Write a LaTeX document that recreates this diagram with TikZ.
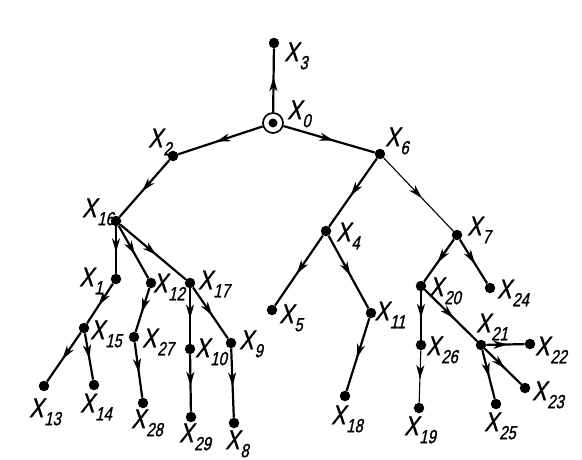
\documentclass[tikz,border=0pt]{standalone}
\usepackage{fontspec}
\usepackage{tikz}
\usetikzlibrary{arrows.meta,decorations.markings}

\newfontfamily\gost[FakeSlant=0.22,FakeStretch=0.78,FakeBold=1.2]{Liberation Sans}
\newcommand{\xlab}[1]{X\kern1pt\raisebox{-8pt}{\fontsize{19}{19}\selectfont #1}}

\begin{document}
\begin{tikzpicture}[x=1pt,y=-1pt]
            \tikzset{vertex/.style = {shape=circle,fill,inner sep=0pt,minimum size=10.5pt}}
            \tikzset{rootring/.style = {shape=circle,draw,line width=1.7pt,inner sep=0pt,minimum size=20pt}}
            \tikzset{edge/.style = {line width=2.2pt,postaction={decorate},
                decoration={markings,mark=at position 0.55 with {\arrow{Stealth[length=14pt,width=8pt,inset=4pt]}}}}}
            \tikzset{thinedge/.style = {edge,line width=1.1pt}}
            \tikzset{lbl/.style = {inner sep=0pt,font=\gost\fontsize{27}{27}\selectfont}}

            \useasboundingbox (0,0) rectangle (582,460);

            \node[rootring] (x0) at (273,123) {};
            \fill (x0.center) circle (4.5pt);

            \node[vertex] (x3) at (274,43) {};
            \node[vertex] (x2) at (173,156) {};
            \node[vertex] (x6) at (380,154) {};
            \node[vertex] (x16) at (116,221) {};

            \node[vertex] (x1) at (116,279) {};
            \node[vertex] (x12) at (151,283) {};
            \node[vertex] (x17) at (190,283) {};
            \node[vertex] (x15) at (84,328) {};
            \node[vertex] (x27) at (134,337) {};
            \node[vertex] (x10) at (190,349) {};
            \node[vertex] (x9) at (231,343) {};
            \node[vertex] (x13) at (44,386) {};
            \node[vertex] (x14) at (94,385) {};
            \node[vertex] (x28) at (143,403) {};
            \node[vertex] (x29) at (191,417) {};
            \node[vertex] (x8) at (234,423) {};

            \node[vertex] (x4) at (326,231) {};
            \node[vertex] (x7) at (457,235) {};
            \node[vertex] (x5) at (272,310) {};
            \node[vertex] (x11) at (371,313) {};
            \node[vertex] (x18) at (345,396) {};

            \node[vertex] (x20) at (421,286) {};
            \node[vertex] (x24) at (490,288) {};
            \node[vertex] (x26) at (421,345) {};
            \node[vertex] (x19) at (419,408) {};
            \node[vertex] (x21) at (481,345) {};
            \node[vertex] (x22) at (530,344) {};
            \node[vertex] (x23) at (525,388) {};
            \node[vertex] (x25) at (496,404) {};

            % labels
            \node[lbl] (l0) at (299,114) {\xlab{0}};
            \node[lbl] (l3) at (296,56) {\xlab{3}};
            \node[lbl] (l2) at (160,142) {\xlab{2}};
            \node[lbl] (l6) at (397,141) {\xlab{6}};
            \node[lbl] (l16) at (98,212) {\xlab{16}};
            \node[lbl] (l1) at (91,281) {\xlab{1}};
            \node[lbl] (l12) at (169,287) {\xlab{12}};
            \node[lbl] (l17) at (214,284) {\xlab{17}};
            \node[lbl] (l15) at (106,334) {\xlab{15}};
            \node[lbl] (l27) at (158,342) {\xlab{27}};
            \node[lbl] (l10) at (211,352) {\xlab{10}};
            \node[lbl] (l9) at (251,344) {\xlab{9}};
            \node[lbl] (l13) at (45,412) {\xlab{13}};
            \node[lbl] (l14) at (96,407) {\xlab{14}};
            \node[lbl] (l28) at (147,423) {\xlab{28}};
            \node[lbl] (l29) at (195,437) {\xlab{29}};
            \node[lbl] (l8) at (237,444) {\xlab{8}};
            \node[lbl] (l4) at (348,236) {\xlab{4}};
            \node[lbl] (l7) at (479,230) {\xlab{7}};
            \node[lbl] (l5) at (291,318) {\xlab{5}};
            \node[lbl] (l11) at (390,315) {\xlab{11}};
            \node[lbl] (l18) at (347,419) {\xlab{18}};
            \node[lbl] (l20) at (445,291) {\xlab{20}};
            \node[lbl] (l24) at (513,293) {\xlab{24}};
            \node[lbl] (l26) at (442,350) {\xlab{26}};
            \node[lbl] (l19) at (420,430) {\xlab{19}};
            \node[lbl] (l21) at (492,327) {\xlab{21}};
            \node[lbl] (l22) at (551,350) {\xlab{22}};
            \node[lbl] (l23) at (548,395) {\xlab{23}};
            \node[lbl] (l25) at (500,426) {\xlab{25}};

            \draw[edge] (x0) to (x3);
            \draw[edge] (x0) to (x2);
            \draw[edge] (x0) to (x6);
            \draw[edge] (x2) to (x16);

            \draw[edge] (x16) to (x1);
            \draw[edge] (x16) to (x12);
            \draw[edge] (x16) to (x17);
            \draw[edge] (x1) to (x15);
            \draw[edge] (x15) to (x13);
            \draw[edge] (x15) to (x14);
            \draw[edge] (x12) to (x27);
            \draw[edge] (x27) to (x28);
            \draw[edge] (x17) to (x10);
            \draw[edge] (x10) to (x29);
            \draw[edge] (x17) to (x9);
            \draw[edge] (x9) to (x8);

            \draw[edge] (x6) to (x4);
            \draw[thinedge] (x6) to (x7);
            \draw[edge] (x4) to (x5);
            \draw[edge] (x4) to (x11);
            \draw[edge] (x11) to (x18);

            \draw[edge] (x7) to (x20);
            \draw[edge] (x7) to (x24);
            \draw[edge] (x20) to (x26);
            \draw[thinedge] (x26) to (x19);
            \draw[edge] (x20) to (x21);
            \draw[edge] (x21) to (x22);
            \draw[edge] (x21) to (x23);
            \draw[edge] (x21) to (x25);
\end{tikzpicture}
\end{document}
